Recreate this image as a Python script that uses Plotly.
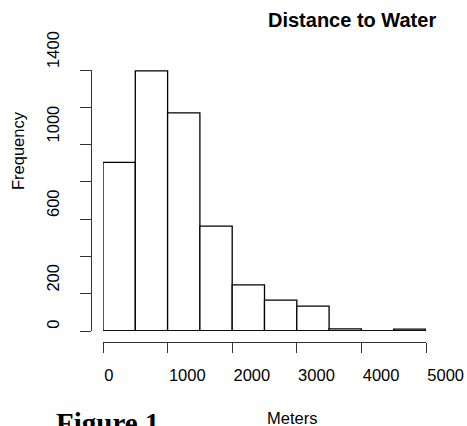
import plotly.graph_objects as go

# Data
bin_edges = [0, 500, 1000, 1500, 2000, 2500, 3000, 3500, 4000, 4500, 5000]
counts = [905, 1395, 1170, 563, 247, 166, 133, 11, 0, 10]
x_ticks = [0, 1000, 2000, 3000, 4000, 5000]
x_ticktext = ["0", "1000", "2000", "3000", "4000", "5000"]
y_ticks = [0, 200, 400, 600, 800, 1000, 1200, 1400]
y_ticktext = ["0", "200", "", "600", "", "1000", "", "1400"]

W, H = 467, 426
def px(x):
    return x / W
def py(y):
    return 1 - y / H

centers = [(a + b) / 2 for a, b in zip(bin_edges[:-1], bin_edges[1:])]
widths = [b - a for a, b in zip(bin_edges[:-1], bin_edges[1:])]

# pad y labels to equal width so that each label starts at its tick
maxlen = max(len(t) for t in y_ticktext)
y_labels = [t + "\u00a0\u00a0" * (maxlen - len(t)) if t else "" for t in y_ticktext]

FONT = "Liberation Sans, Arial, sans-serif"
AXC = "#333333"

fig = go.Figure()
fig.add_trace(go.Scatter(
    x=[bin_edges[0], bin_edges[-1]], y=[0, 0], mode="lines",
    line=dict(color="black", width=1.3), hoverinfo="skip",
))
fig.add_trace(go.Bar(
    x=centers, y=counts, width=widths,
    marker=dict(color="white", line=dict(color="black", width=1.3)),
    hoverinfo="x+y",
))

fig.update_layout(
    width=W, height=H,
    margin=dict(l=0, r=0, t=0, b=0, autoexpand=False),
    paper_bgcolor="white", plot_bgcolor="white",
    showlegend=False,
    font=dict(family=FONT, size=16.5, color="black"),
    xaxis=dict(
        domain=[px(103), px(426)], range=[0, 5000],
        anchor="free", position=py(342), automargin=False,
        showline=True, linecolor=AXC, linewidth=1.3,
        ticks="outside", ticklen=10, tickwidth=1.3, tickcolor=AXC,
        tickvals=x_ticks, ticktext=x_ticktext,
        ticklabelposition="outside right", ticklabelstandoff=18,
        ticklabeloverflow="allow",
        showgrid=False, zeroline=False,
    ),
    yaxis=dict(
        domain=[py(331), py(70)], range=[0, 1400],
        anchor="free", position=px(91), automargin=False,
        showline=True, linecolor=AXC, linewidth=1.3,
        ticks="outside", ticklen=11, tickwidth=1.3, tickcolor=AXC,
        tickvals=y_ticks, ticktext=y_labels, tickangle=-90,
        ticklabelshift=-18, ticklabelstandoff=14,
        showgrid=False, zeroline=False,
    ),
    annotations=[
        dict(text="<b>Distance to Water</b>", x=px(352), y=py(20), xref="paper", yref="paper",
             xanchor="center", yanchor="middle", showarrow=False,
             font=dict(family=FONT, size=20, color="black")),
        dict(text="Frequency", x=px(18), y=py(151), xref="paper", yref="paper",
             xanchor="center", yanchor="middle", textangle=-90, showarrow=False,
             font=dict(family=FONT, size=16.5, color="black")),
        dict(text="Meters", x=px(292), y=py(418), xref="paper", yref="paper",
             xanchor="center", yanchor="middle", showarrow=False,
             font=dict(family=FONT, size=16.5, color="black")),
        dict(text="<b>Figure 1</b>", x=px(54), y=py(405), xref="paper", yref="paper",
             xanchor="left", yanchor="top", showarrow=False,
             font=dict(family="Liberation Serif, serif", size=29, color="black")),
    ],
)

fig.write_html(
    "out.html",
    config={"displayModeBar": False},
    post_script="document.body.style.margin='0';document.body.style.overflow='hidden';",
)
